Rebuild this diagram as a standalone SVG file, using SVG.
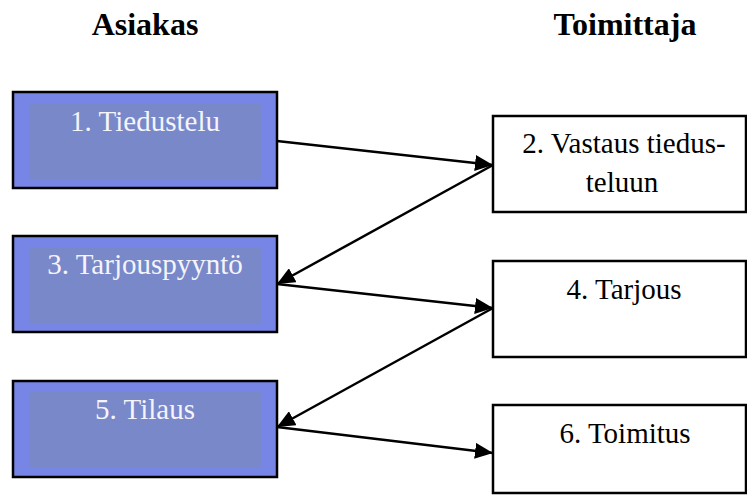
<svg xmlns="http://www.w3.org/2000/svg" width="747" height="495" viewBox="0 0 747 495">
<defs>
<marker id="ah" viewBox="0 0 18 16" refX="18" refY="8" markerWidth="18" markerHeight="16" markerUnits="userSpaceOnUse" orient="auto">
<path d="M0,0 L18,8 L0,16 Z" fill="#000"/>
</marker>
<style>
.head{font-family:'Liberation Serif','Times New Roman',serif;font-size:32px;font-weight:bold;fill:#000;text-anchor:middle}
.lbl{font-family:'Times New Roman',Times,serif;font-size:29px;font-weight:400;text-anchor:middle}
.lt{fill:#F4F4FA}
.rt{fill:#000}
.outer{fill:#7685E6;stroke:#000;stroke-width:2.5}
.inner{fill:#7888C9}
.rbox{fill:#fff;stroke:#000;stroke-width:2.5}
.conn{stroke:#000;stroke-width:2.5;fill:none;marker-end:url(#ah)}
</style>
</defs>
<rect width="747" height="495" fill="#fff"/>
<text class="head" x="145" y="35">Asiakas</text>
<text class="head" x="625" y="35">Toimittaja</text>
<g id="n1"><rect class="outer" x="13" y="92" width="264" height="96"/><rect class="inner" x="29" y="104" width="232" height="75"/><text class="lbl lt" x="145" y="131">1. Tiedustelu</text></g>
<g id="n3"><rect class="outer" x="13" y="236" width="264" height="96"/><rect class="inner" x="29" y="248" width="232" height="75"/><text class="lbl lt" x="145" y="274">3. Tarjouspyyntö</text></g>
<g id="n5"><rect class="outer" x="13" y="381" width="264" height="96"/><rect class="inner" x="29" y="392" width="232" height="75"/><text class="lbl lt" x="145" y="419">5. Tilaus</text></g>
<g id="n2"><rect class="rbox" x="493" y="116" width="253" height="96"/><text class="lbl rt" x="624" y="153">2. Vastaus tiedus-</text><text class="lbl rt" x="622" y="192">teluun</text></g>
<g id="n4"><rect class="rbox" x="493" y="261" width="253" height="96"/><text class="lbl rt" x="624" y="299">4. Tarjous</text></g>
<g id="n6"><rect class="rbox" x="493" y="405" width="253" height="88"/><text class="lbl rt" x="625" y="443">6. Toimitus</text></g>
<g id="connectors">
<line class="conn" x1="277" y1="141" x2="493" y2="165"/>
<line class="conn" x1="493" y1="165" x2="277" y2="284"/>
<line class="conn" x1="277" y1="284" x2="493" y2="308"/>
<line class="conn" x1="493" y1="308" x2="277" y2="427"/>
<line class="conn" x1="277" y1="427" x2="493" y2="453"/>
</g>
</svg>
